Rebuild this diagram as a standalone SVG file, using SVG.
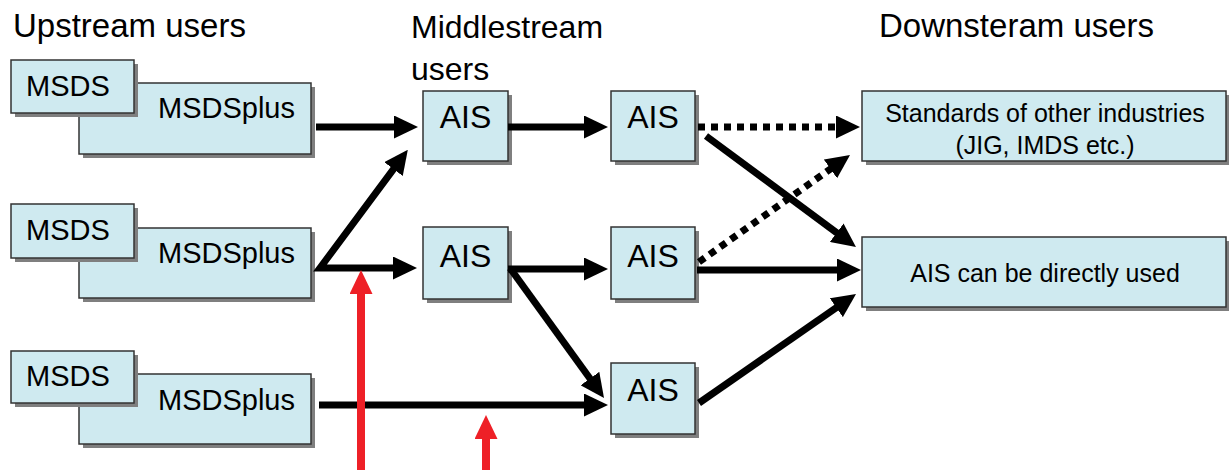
<svg xmlns="http://www.w3.org/2000/svg" width="1229" height="470" viewBox="0 0 1229 470">
<defs>
<marker id="ah" markerUnits="userSpaceOnUse" viewBox="0 0 24 23" markerWidth="24" markerHeight="23" refX="4" refY="11.5" orient="auto-start-reverse"><path d="M0,0 L24,11.5 L0,23 z" fill="#000"/></marker>
<marker id="ahr" markerUnits="userSpaceOnUse" viewBox="0 0 24 23" markerWidth="24" markerHeight="23" refX="4" refY="11.5" orient="auto"><path d="M0,0 L24,11.5 L0,23 z" fill="#ee2027"/></marker>
</defs>
<style>
.box{fill:#cfeaf0;stroke:#333;stroke-width:1.5}
.sh{fill:#7f7f7f}
.t{font-family:"Liberation Sans",Arial,sans-serif;fill:#000}
.ttl{font-size:33px}
.up{font-size:29px}
.ais{font-size:32px;text-anchor:middle}
.dn{font-size:25px;text-anchor:middle}
.c{stroke:#000;stroke-width:7;fill:none;stroke-linejoin:miter;marker-end:url(#ah)}
.d{stroke-dasharray:7 6}
.r{stroke:#ee2027;stroke-width:8;fill:none;marker-end:url(#ahr)}
</style>
<rect width="1229" height="470" fill="#fff"/>
<g id="titles">
<text class="t ttl" x="13" y="37">Upstream users</text>
<text class="t" style="font-size:32px" x="411" y="38">Middlestream</text>
<text class="t" style="font-size:32px" x="411" y="80">users</text>
<text class="t ttl" x="879" y="37">Downsteram users</text>
</g>
<g id="up1-msdsplus"><rect class="sh" x="83" y="87" width="232" height="71"/><rect class="box" x="79" y="83" width="232" height="71"/><text class="t up" x="158" y="118">MSDSplus</text></g>
<g id="up1-msds"><rect class="sh" x="15" y="64" width="123" height="53"/><rect class="box" x="11" y="60" width="123" height="53"/><text class="t up" x="26" y="96">MSDS</text></g>
<g id="up2-msdsplus"><rect class="sh" x="83" y="232" width="232" height="70"/><rect class="box" x="79" y="228" width="232" height="70"/><text class="t up" x="158" y="263">MSDSplus</text></g>
<g id="up2-msds"><rect class="sh" x="15" y="208" width="123" height="54"/><rect class="box" x="11" y="204" width="123" height="54"/><text class="t up" x="26" y="240">MSDS</text></g>
<g id="up3-msdsplus"><rect class="sh" x="83" y="378" width="232" height="70"/><rect class="box" x="79" y="374" width="232" height="70"/><text class="t up" x="158" y="410">MSDSplus</text></g>
<g id="up3-msds"><rect class="sh" x="15" y="355" width="123" height="52"/><rect class="box" x="11" y="351" width="123" height="52"/><text class="t up" x="26" y="386">MSDS</text></g>
<g id="ais1"><rect class="sh" x="427" y="95" width="85" height="70"/><rect class="box" x="423" y="91" width="85" height="70"/><text class="t ais" x="465.5" y="128">AIS</text></g>
<g id="ais2"><rect class="sh" x="615" y="95" width="84" height="70"/><rect class="box" x="611" y="91" width="84" height="70"/><text class="t ais" x="653" y="128">AIS</text></g>
<g id="ais3"><rect class="sh" x="427" y="231" width="85" height="72"/><rect class="box" x="423" y="227" width="85" height="72"/><text class="t ais" x="465.5" y="267">AIS</text></g>
<g id="ais4"><rect class="sh" x="615" y="231" width="84" height="72"/><rect class="box" x="611" y="227" width="84" height="72"/><text class="t ais" x="653" y="267">AIS</text></g>
<g id="ais5"><rect class="sh" x="615" y="367" width="84" height="71"/><rect class="box" x="611" y="363" width="84" height="71"/><text class="t ais" x="653" y="401">AIS</text></g>
<g id="standards"><rect class="sh" x="866" y="95" width="364" height="70"/><rect class="box" x="862" y="91" width="364" height="70"/><text class="t dn" x="1045" y="122">Standards of other industries</text><text class="t dn" x="1045" y="154">(JIG, IMDS etc.)</text></g>
<g id="direct"><rect class="sh" x="866" y="241" width="364" height="70"/><rect class="box" x="862" y="237" width="364" height="70"/><text class="t dn" x="1045" y="282">AIS can be directly used</text></g>
<g id="connectors">
<path class="c" d="M316,127 L398,127"/>
<path class="c" style="marker-start:url(#ah)" d="M395.9,165.9 L320,268 L397,268"/>
<path class="c" d="M319,405 L588,405"/>
<path class="c" d="M508,127 L588,127"/>
<path class="c" d="M508,269 L588,269"/>
<path class="c" d="M510,268 L592.3,381.8"/>
<path class="c d" d="M698,127 L840,127"/>
<path class="c" d="M706,136 L839.9,235.1"/>
<path class="c d" d="M699,262 L833.7,166.6"/>
<path class="c" d="M697,270 L841,270"/>
<path class="c" d="M699,403 L839.6,305.4"/>
<path class="r" d="M361,470 L361,290"/>
<path class="r" d="M486,470 L486,435"/>
</g>
</svg>
